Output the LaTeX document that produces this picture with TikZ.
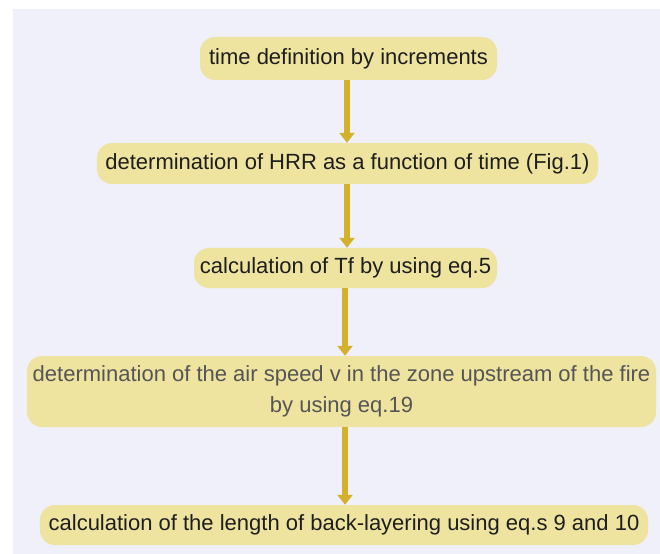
\documentclass[tikz,border=0pt]{standalone}
\usepackage{fontspec}
\setmainfont{Liberation Sans}
\usetikzlibrary{arrows.meta}
\definecolor{bgpanel}{HTML}{F0F0FA}
\definecolor{boxfill}{HTML}{EFE3A0}
\definecolor{arrowc}{HTML}{D4B12C}
\definecolor{txtdark}{HTML}{1E1E1E}
\definecolor{txtgray}{HTML}{555555}
\tikzset{
  stepbox/.style={draw=none, fill=boxfill, rounded corners=15bp, inner sep=0pt,
    align=center, font=\fontsize{22bp}{31bp}\selectfont, text=txtdark},
  flowarrow/.style={draw=arrowc, line width=5.5bp,
    -{Triangle[width=15bp,length=10bp]}, shorten >=0pt}
}
\begin{document}
\begin{tikzpicture}[x=1bp,y=-1bp]
\useasboundingbox (0,0) rectangle (660,554);
\fill[white] (0,0) rectangle (660,554);
\fill[bgpanel] (13,9) rectangle (660,554);
\node[stepbox, minimum width=297bp, minimum height=43bp] (b1) at (348.5,58.5) {time definition by increments};
\node[stepbox, minimum width=501bp, minimum height=41bp] (b2) at (347.5,163.5) {determination of HRR as a function of time (Fig.1)};
\node[stepbox, minimum width=303bp, minimum height=40bp] (b3) at (345.5,268) {calculation of Tf by using eq.5};
\node[stepbox, minimum width=629bp, minimum height=71bp, text=txtgray] (b4) at (341.5,391.5) {determination of the air speed v in the zone upstream of the fire\\by using eq.19};
\node[stepbox, minimum width=608bp, minimum height=40bp] (b5) at (344,525) {calculation of the length of back-layering using eq.s 9 and 10};
\draw[flowarrow] (b1.south -| 347,0) -- (b2.north -| 347,0);
\draw[flowarrow] (b2.south -| 347,0) -- (b3.north -| 347,0);
\draw[flowarrow] (b3.south -| 345,0) -- (b4.north -| 345,0);
\draw[flowarrow] (b4.south -| 345,0) -- (b5.north -| 345,0);
\end{tikzpicture}
\end{document}
